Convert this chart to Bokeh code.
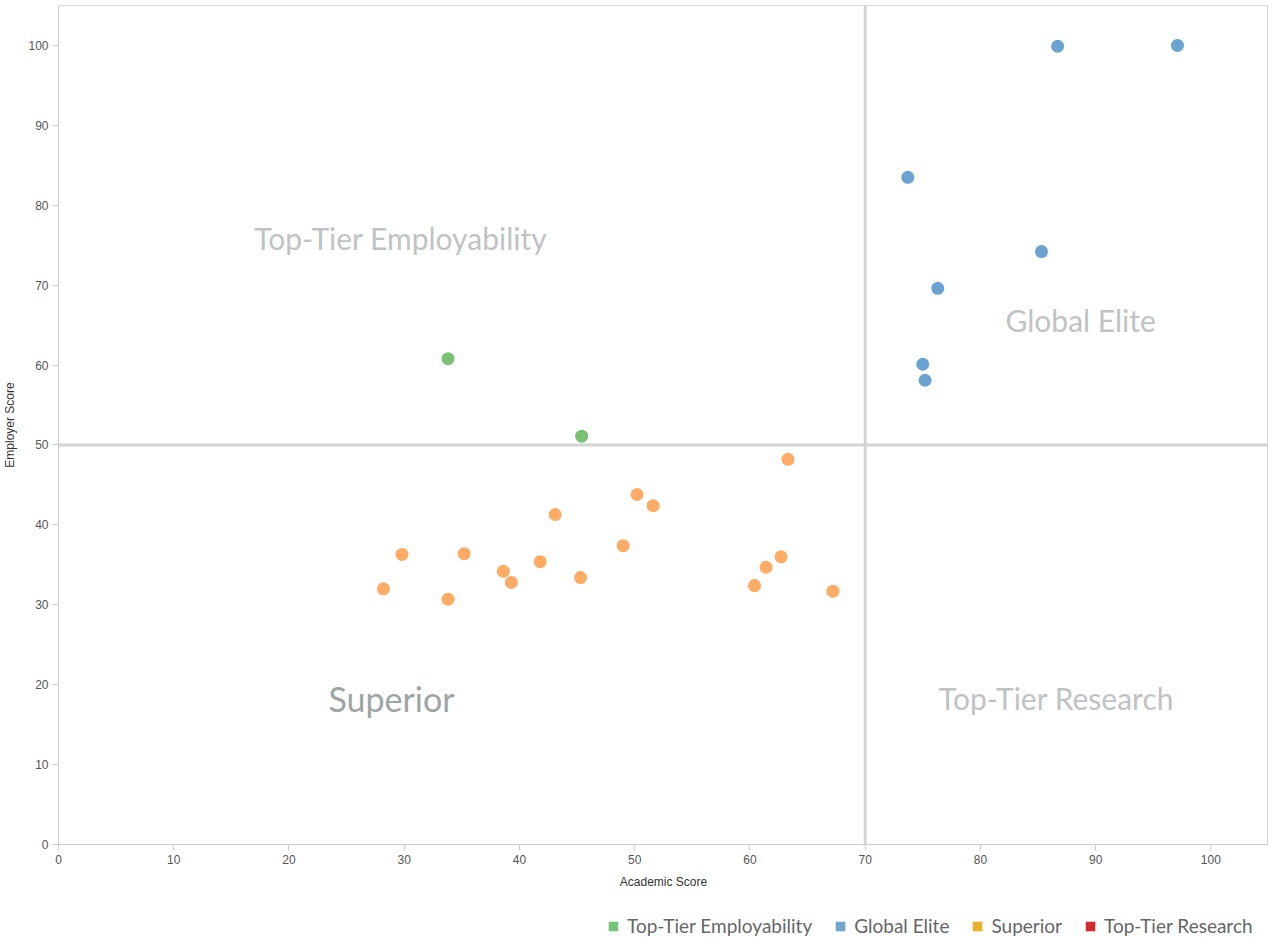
import math
from bokeh.plotting import figure
from bokeh.layouts import column
from bokeh.models import Label, Span, Legend, LegendItem, ColumnDataSource, FixedTicker, Range1d
from bokeh.embed import file_html
from bokeh.resources import INLINE

# Data
elite_x = [86.7, 97.1, 73.7, 85.3, 76.3, 75.0, 75.2]
elite_y = [99.9, 100.0, 83.5, 74.2, 69.6, 60.1, 58.1]
employ_x = [33.8, 45.4]
employ_y = [60.8, 51.1]
superior_x = [28.2, 29.8, 33.8, 35.2, 38.6, 39.3, 41.8, 43.1, 45.3, 49.0, 50.2, 51.6, 60.4, 61.4, 62.7, 63.3, 67.2]
superior_y = [32.0, 36.3, 30.7, 36.4, 34.2, 32.8, 35.4, 41.3, 33.4, 37.4, 43.8, 42.4, 32.4, 34.7, 36.0, 48.2, 31.7]
legend_names = ["Top-Tier Employability", "Global Elite", "Superior", "Top-Tier Research"]
legend_colors = ["#78c37a", "#6fa6d0", "#e9b12a", "#d42a2e"]
quadrant_names = ["Top-Tier Employability", "Global Elite", "Superior", "Top-Tier Research"]
quadrant_x = [29.7, 88.7, 28.9, 86.6]
quadrant_y = [75.9, 65.6, 18.3, 18.3]
x_split = 70
y_split = 50
ticks = [0, 10, 20, 30, 40, 50, 60, 70, 80, 90, 100]

p = figure(frame_width=1210, frame_height=839, x_range=(0, 105), y_range=(0, 105),
           output_backend="svg", toolbar_location=None,
           min_border_left=58, min_border_right=0, min_border_top=5, min_border_bottom=50)
p.background_fill_color = "white"
p.border_fill_color = "white"
p.outline_line_color = "#d8d8d8"
p.xgrid.visible = False
p.ygrid.visible = False

for ax in (p.xaxis[0], p.yaxis[0]):
    ax.ticker = FixedTicker(ticks=ticks)
    ax.axis_line_color = "#cccccc"
    ax.major_tick_line_color = "#cccccc"
    ax.minor_tick_line_color = None
    ax.major_tick_in = 0
    ax.major_tick_out = 6
    ax.major_label_standoff = 4
    ax.major_label_text_font = "Liberation Sans"
    ax.major_label_text_font_size = "12px"
    ax.major_label_text_color = "#555555"
    ax.axis_label_text_font = "Liberation Sans"
    ax.axis_label_text_font_size = "12px"
    ax.axis_label_text_font_style = "normal"
    ax.axis_label_text_color = "#333333"
p.xaxis.axis_label = "Academic Score"
p.yaxis.axis_label = "Employer Score"
p.xaxis.axis_label_standoff = 8
p.yaxis.axis_label_standoff = 8

p.add_layout(Span(location=x_split, dimension="height", line_color="#d4d4d4", line_width=3))
p.add_layout(Span(location=y_split, dimension="width", line_color="#d4d4d4", line_width=3))

for i, name in enumerate(quadrant_names):
    p.add_layout(Label(x=quadrant_x[i], y=quadrant_y[i], text=name,
                       text_align="center", text_baseline="middle",
                       text_font="Lato",
                       text_font_size="34px" if name == "Superior" else "30px",
                       text_color="#9ea5a5" if name == "Superior" else "#bfc3c3"))

p.scatter(employ_x, employ_y, size=13, fill_color="#79c174", line_color=None)
p.scatter(elite_x, elite_y, size=13, fill_color="#6aa3d1", line_color=None)
p.scatter(superior_x, superior_y, size=13, fill_color="#fdab65", line_color=None)

# Legend strip below the chart
p2 = figure(frame_width=1210, frame_height=43, x_range=Range1d(0, 1), y_range=Range1d(0, 1),
            output_backend="svg", toolbar_location=None,
            min_border_left=58, min_border_right=0, min_border_top=0, min_border_bottom=0)
p2.axis.visible = False
p2.grid.visible = False
p2.outline_line_color = None
p2.background_fill_color = "white"
p2.border_fill_color = "white"

items = []
for name, col in zip(legend_names, legend_colors):
    src = ColumnDataSource(data=dict(l=[math.nan], r=[math.nan], b=[math.nan], t=[math.nan]))
    r = p2.quad(left="l", right="r", bottom="b", top="t", source=src,
                fill_color=col, line_color=None)
    items.append(LegendItem(label=name, renderers=[r], index=0))

legend = Legend(items=items, orientation="horizontal", location=(549, 0),
                label_text_font="Lato", label_text_font_size="19px", label_text_color="#666666",
                glyph_width=12, glyph_height=12, spacing=22, label_standoff=8,
                border_line_color=None, background_fill_alpha=0, margin=0, padding=0)
p2.add_layout(legend, "center")

layout = column(p, p2, spacing=0)
open("out.html", "w").write(file_html(layout, INLINE))
